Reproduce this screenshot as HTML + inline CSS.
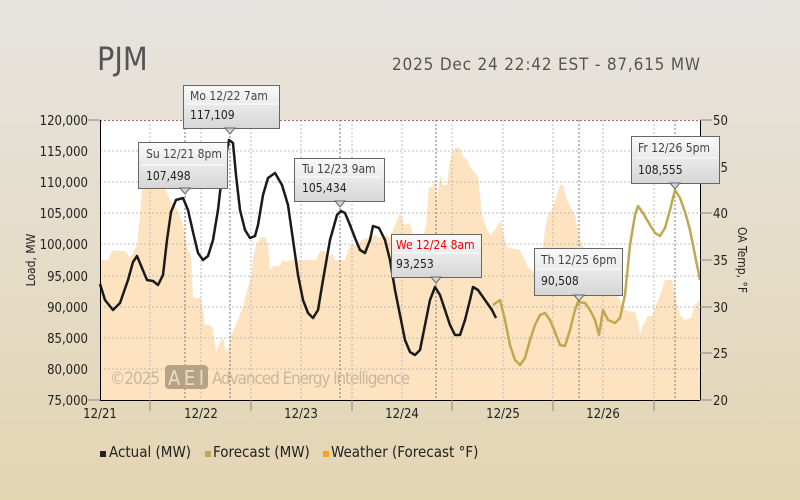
<!DOCTYPE html>
<html><head><meta charset="utf-8"><style>
html,body{margin:0;padding:0;width:800px;height:500px;overflow:hidden}
body{background:linear-gradient(#e6e4e0,#e4d6b4);font-family:"DejaVu Sans Condensed","DejaVu Sans","Liberation Sans",sans-serif}
text{font-family:"DejaVu Sans Condensed","DejaVu Sans","Liberation Sans",sans-serif;font-stretch:condensed}
</style></head><body>
<svg width="800" height="500" viewBox="0 0 800 500" xmlns="http://www.w3.org/2000/svg">
<defs>
<linearGradient id="tg" x1="0" y1="0" x2="0" y2="1"><stop offset="0" stop-color="#fafafa"/><stop offset="1" stop-color="#d6d6d6"/></linearGradient>
<linearGradient id="bg" x1="0" y1="0" x2="0" y2="1"><stop offset="0" stop-color="#e6e4e0"/><stop offset="1" stop-color="#e4d5b2"/></linearGradient>
</defs>
<rect width="800" height="500" fill="url(#bg)"/>
<text x="97" y="70" font-size="32" fill="#555">PJM</text>
<text x="700" y="70" font-size="17" fill="#555" text-anchor="end" textLength="308">2025 Dec 24 22:42 EST - 87,615 MW</text>
<rect x="100" y="120" width="600" height="280" fill="#fff"/>
<polygon fill="#fde3bf" points="100,400 100,260 108,260 112,251 125,251 130,258 133,253 137,245 140,215 142,190 147,188 165,188 170,200 178,210 183,225 188,250 191,255 193,298 201,298 205,325 210,325 213,328 216,352 220,342 223,338 226,352 228,350 231,335 237,322 243,307 247,290 251,278 253,258 256,245 261,237 265,237 268,245 270,270 274,266 280,266 283,260 287,262 290,260 316,260 320,251 325,251 328,258 332,253 335,260 345,260 350,245 357,245 362,240 370,237 375,235 380,238 385,235 390,238 395,225 400,213 404,225 410,223 414,240 420,245 426,227 429,187 432,187 435,180 437,200 440,175 443,185 447,185 450,160 455,148 460,148 463,157 467,160 472,170 478,176 482,215 485,225 490,235 495,230 501,220 503,232 507,247 510,248 520,250 528,267 535,273 540,270 545,230 548,215 552,210 560,185 563,185 567,200 575,215 580,240 583,246 590,257 600,268 607,280 613,290 620,300 625,310 628,311 635,312 638,322 640,335 642,327 648,316 652,316 656,305 661,293 665,280 672,280 676,300 680,315 685,320 691,318 695,305 700,300 700,400"/>
<g stroke="#bbb" stroke-dasharray="2,2" stroke-width="1">
<line x1="100" y1="151" x2="700" y2="151"/><line x1="100" y1="182" x2="700" y2="182"/><line x1="100" y1="213" x2="700" y2="213"/><line x1="100" y1="244" x2="700" y2="244"/><line x1="100" y1="276" x2="700" y2="276"/><line x1="100" y1="307" x2="700" y2="307"/><line x1="100" y1="338" x2="700" y2="338"/><line x1="100" y1="369" x2="700" y2="369"/>
<line x1="150" y1="120" x2="150" y2="400"/><line x1="201" y1="120" x2="201" y2="400"/><line x1="251" y1="120" x2="251" y2="400"/><line x1="301" y1="120" x2="301" y2="400"/><line x1="352" y1="120" x2="352" y2="400"/><line x1="402" y1="120" x2="402" y2="400"/><line x1="452" y1="120" x2="452" y2="400"/><line x1="503" y1="120" x2="503" y2="400"/><line x1="553" y1="120" x2="553" y2="400"/><line x1="603" y1="120" x2="603" y2="400"/><line x1="654" y1="120" x2="654" y2="400"/>
</g>
<line x1="100" y1="120.5" x2="700" y2="120.5" stroke="#c06060" stroke-dasharray="2,2"/>
<g stroke="#777" stroke-dasharray="2,2">
<line x1="185" y1="120" x2="185" y2="400"/><line x1="230" y1="120" x2="230" y2="400"/><line x1="340" y1="120" x2="340" y2="400"/><line x1="436" y1="120" x2="436" y2="400"/><line x1="579" y1="120" x2="579" y2="400"/><line x1="675" y1="120" x2="675" y2="400"/>
</g>
<text x="110" y="384" font-size="17" fill="#c9b7a0" textLength="50">©2025</text>
<rect x="165" y="365" width="43" height="24" rx="4" fill="#b8a285"/>
<text x="168" y="385" font-size="20" fill="#e8dccb" textLength="36">AEI</text>
<text x="212" y="384" font-size="17" fill="#c9b7a0" textLength="198">Advanced Energy Intelligence</text>
<polyline fill="none" stroke="#c0a850" stroke-width="2.5" stroke-linejoin="round" points="493,305 500,300 505,320 510,345 515,360 520,365 525,358 530,340 535,325 540,315 545,313 550,320 555,332 560,345 565,346 570,330 575,310 578,302 585,303 590,310 595,320 599,335 603,310 608,320 615,323 620,318 625,295 630,245 635,215 638,206 643,213 650,225 655,233 660,236 665,228 670,210 675,190 680,198 685,212 690,230 695,255 700,280"/>
<polyline fill="none" stroke="#1a1a1a" stroke-width="2.5" stroke-linejoin="round" points="100,284 105,300 113,310 120,303 128,280 133,262 137,256 142,268 147,280 153,281 158,285 163,275 167,240 171,212 176,200 183,198 188,210 193,232 198,253 203,260 208,256 213,240 218,210 222,175 229,140 233,143 236,175 240,210 245,230 250,238 255,236 258,225 263,195 268,178 275,173 282,185 288,205 293,240 298,275 303,300 308,313 313,318 318,310 323,280 330,240 337,215 341,211 345,213 350,225 355,238 360,250 365,253 370,240 373,226 379,228 385,240 390,260 395,290 400,315 405,340 410,352 415,355 420,350 425,325 430,300 435,287 440,295 445,310 450,325 455,335 460,335 465,320 470,300 473,287 478,290 485,300 492,310 496,318"/>
<line x1="100.5" y1="120" x2="100.5" y2="400" stroke="#000"/>
<line x1="700.5" y1="120" x2="700.5" y2="400" stroke="#000"/>
<line x1="100" y1="400.5" x2="700" y2="400.5" stroke="#000"/>
<g font-size="13" fill="#222" text-anchor="end">
<text x="88" y="125">120,000</text><text x="88" y="156">115,000</text><text x="88" y="187">110,000</text><text x="88" y="218">105,000</text><text x="88" y="249">100,000</text><text x="88" y="281">95,000</text><text x="88" y="312">90,000</text><text x="88" y="343">85,000</text><text x="88" y="374">80,000</text><text x="88" y="405">75,000</text>
</g>
<g stroke="#888"><line x1="88" y1="120" x2="100" y2="120"/><line x1="88" y1="400" x2="100" y2="400"/><line x1="700" y1="120" x2="712" y2="120"/><line x1="700" y1="167" x2="712" y2="167"/><line x1="700" y1="213" x2="712" y2="213"/><line x1="700" y1="260" x2="712" y2="260"/><line x1="700" y1="307" x2="712" y2="307"/><line x1="700" y1="353" x2="712" y2="353"/><line x1="700" y1="400" x2="712" y2="400"/>
<line x1="150" y1="400" x2="150" y2="411"/><line x1="251" y1="400" x2="251" y2="411"/><line x1="352" y1="400" x2="352" y2="411"/><line x1="452" y1="400" x2="452" y2="411"/><line x1="553" y1="400" x2="553" y2="411"/><line x1="654" y1="400" x2="654" y2="411"/></g>
<g font-size="13" fill="#222">
<text x="713" y="125">50</text><text x="713" y="172">45</text><text x="713" y="218">40</text><text x="713" y="265">35</text><text x="713" y="312">30</text><text x="713" y="358">25</text><text x="713" y="405">20</text>
</g>
<g font-size="13" fill="#222" text-anchor="middle">
<text x="100" y="418">12/21</text><text x="201" y="418">12/22</text><text x="301" y="418">12/23</text><text x="402" y="418">12/24</text><text x="503" y="418">12/25</text><text x="603" y="418">12/26</text>
</g>
<text transform="translate(35,260) rotate(-90)" font-size="12" fill="#222" text-anchor="middle">Load, MW</text>
<text transform="translate(738,260) rotate(90)" font-size="12" fill="#222" text-anchor="middle">OA Temp, °F</text>
<g font-size="15" fill="#222">
<rect x="100" y="451" width="6" height="6" fill="#222"/><text x="109" y="457">Actual (MW)</text>
<rect x="205" y="451" width="6" height="6" fill="#c0a850"/><text x="213" y="457">Forecast (MW)</text>
<rect x="323" y="451" width="6" height="6" fill="#f5a020"/><text x="331" y="457">Weather (Forecast °F)</text>
</g>
<g font-size="12" fill="#222">
<g><rect x="138.5" y="142.5" width="89" height="46" fill="url(#tg)" stroke="#666"/><polygon points="180,188 185,194 190,188" fill="#d6d6d6" stroke="#666"/><line x1="141" y1="165" x2="225" y2="165" stroke="#fff"/><text x="146" y="158" fill="#444">Su 12/21 8pm</text><text x="146" y="180">107,498</text></g>
<g><rect x="183.5" y="85.5" width="96" height="43" fill="url(#tg)" stroke="#666"/><polygon points="225,128 230,134 235,128" fill="#d6d6d6" stroke="#666"/><line x1="186" y1="104" x2="277" y2="104" stroke="#fff"/><text x="190" y="100" fill="#444">Mo 12/22 7am</text><text x="190" y="119">117,109</text></g>
<g><rect x="294.5" y="158.5" width="90" height="43" fill="url(#tg)" stroke="#666"/><polygon points="335,201 340,207 345,201" fill="#d6d6d6" stroke="#666"/><line x1="297" y1="177" x2="382" y2="177" stroke="#fff"/><text x="302" y="173" fill="#444">Tu 12/23 9am</text><text x="302" y="192">105,434</text></g>
<g><rect x="391.5" y="234.5" width="90" height="43" fill="url(#tg)" stroke="#666"/><polygon points="431,277 436,283 441,277" fill="#d6d6d6" stroke="#666"/><line x1="394" y1="253" x2="479" y2="253" stroke="#fff"/><text x="396" y="249" fill="#e00">We 12/24 8am</text><text x="396" y="268">93,253</text></g>
<g><rect x="534.5" y="248.5" width="88" height="47" fill="url(#tg)" stroke="#666"/><polygon points="574,295 579,301 584,295" fill="#d6d6d6" stroke="#666"/><line x1="537" y1="269" x2="620" y2="269" stroke="#fff"/><text x="541" y="264" fill="#444">Th 12/25 6pm</text><text x="541" y="285">90,508</text></g>
<g><rect x="631.5" y="136.5" width="88" height="47" fill="url(#tg)" stroke="#666"/><polygon points="670,183 675,189 680,183" fill="#d6d6d6" stroke="#666"/><line x1="634" y1="158" x2="717" y2="158" stroke="#fff"/><text x="638" y="152" fill="#444">Fr 12/26 5pm</text><text x="638" y="174">108,555</text></g>
</g>
</svg>
</body></html>
